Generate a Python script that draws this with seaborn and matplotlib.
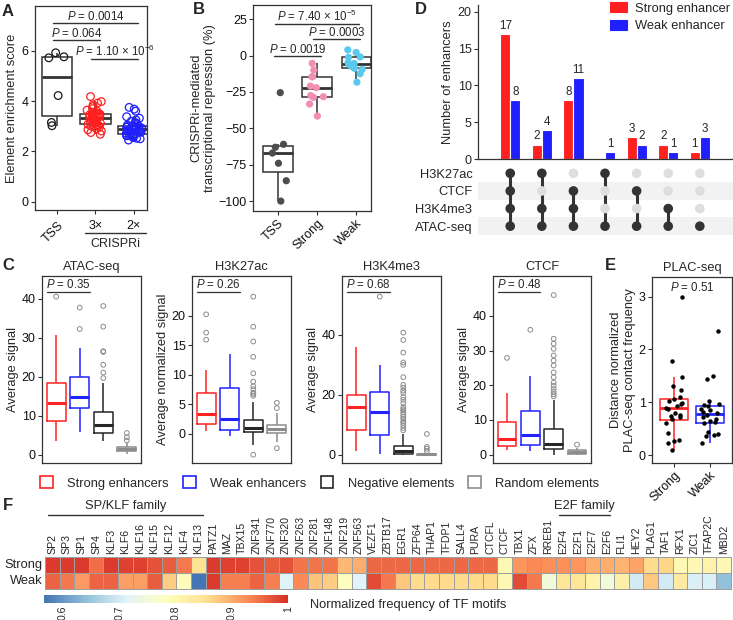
import numpy as np
import pandas as pd
import matplotlib
matplotlib.use("Agg")
import matplotlib.pyplot as plt
import matplotlib.transforms as mtransforms
from matplotlib.colors import LinearSegmentedColormap
from matplotlib.patches import Rectangle
from matplotlib.lines import Line2D
import seaborn as sns

# ---------------- data ----------------
# A: element enrichment score
a_groups = ["TSS", "3×", "2×"]
a_colors = ["#1a1a1a", "#FF1F1F", "#1F1FFF"]
a_tss = [5.92, 5.76, 5.72, 4.22, 3.15, 3.02]
a_3x = [2.68, 2.75, 2.81, 2.86, 2.9, 2.96, 3.0, 3.03, 3.06, 3.08, 3.10,
        3.12, 3.15, 3.17, 3.2, 3.22, 3.24, 3.26, 3.28, 3.3, 3.32,
        3.34, 3.36, 3.38, 3.4, 3.42, 3.44, 3.46, 3.47, 3.49, 3.50,
        3.53, 3.56, 3.6, 3.64, 3.7, 3.78, 3.85, 3.92, 3.98, 4.18]
a_2x = [2.45, 2.5, 2.52, 2.55, 2.58, 2.6, 2.62, 2.64, 2.65, 2.67, 2.68,
        2.7, 2.72, 2.74, 2.76, 2.78, 2.8, 2.82, 2.84, 2.86, 2.88,
        2.89, 2.9, 2.92, 2.93, 2.95, 2.96, 2.98, 2.99, 3.0, 3.02,
        3.05, 3.1, 3.15, 3.2, 3.25, 3.32, 3.38, 3.6, 3.68, 3.75]

# B: CRISPRi-mediated repression
b_groups = ["TSS", "Strong", "Weak"]
b_colors = ["#4D4D4D", "#F28DB4", "#5BC8EE"]
b_tss = [-100, -86, -74, -67, -63, -61, -25.5]
b_strong = [-41.6, -33.3, -28.7, -28.3, -27.5, -22.1, -21, -14.6, -14.6, -10, -5.4]
b_weak = [-18.3, -12.5, -9.5, -8.8, -7.5, -6.5, -6.0, -5.5, -4.8, -1.2, -1.0, 2.1, 3.9]

# D: overlap of marks
d_marks = ["H3K27ac", "CTCF", "H3K4me3", "ATAC-seq"]
d_sets = [[1, 1, 1, 1], [1, 0, 1, 1], [0, 1, 1, 1], [1, 0, 0, 1],
          [0, 1, 0, 1], [0, 0, 1, 1], [0, 0, 0, 1]]
d_strong = [17, 2, 8, 0, 3, 2, 1]
d_weak = [8, 4, 11, 1, 2, 1, 3]

# C: signal boxplots (lower whisker, Q1, median, Q3, upper whisker) + outliers
c_groups = ["Strong enhancers", "Weak enhancers", "Negative elements", "Random elements"]
c_colors = ["#FF2222", "#2222FF", "#262626", "#8C8C8C"]
c_titles = ["ATAC-seq", "H3K27ac", "H3K4me3", "CTCF"]
c_ylabels = ["Average signal", "Average normalized signal", "Average signal", "Average signal"]
c_pvals = ["0.35", "0.26", "0.68", "0.48"]

atac_box = [[3.6, 8.8, 13.4, 18.4, 30.8], [5.8, 12.1, 14.9, 20.1, 27.5],
            [3.6, 5.7, 7.7, 11.1, 18.5], [0.2, 0.9, 1.4, 2.0, 3.0]]
atac_out = [[40.6], [37.8, 32.3], [38.2, 32.9, 26.6, 26.4, 23.1, 21.1, 19.7], [5.6, 4.5, 3.7]]

k27_box = [[0.45, 1.6, 3.3, 6.8, 10.8], [-0.5, 0.6, 2.4, 7.7, 13.5],
           [-1.9, 0.2, 1.0, 2.3, 5.3], [-1.4, 0.05, 0.75, 1.5, 3.5]]
k27_out = [[20.2, 17.1, 15.9], [],
           [23.2, 18.1, 15.6, 13.0, 10.2, 8.8, 8.0, 7.5, 6.9, 6.7, 6.4, -3.6],
           [5.2, 4.3, -2.5]]

k4_box = [[1.3, 8.1, 16.0, 19.8, 35.9], [0.2, 6.6, 14.2, 20.8, 29.9],
          [0.0, 0.3, 1.3, 3.0, 6.9], [0.0, 0.02, 0.1, 0.3, 0.6]]
k4_out = [[], [52.8],
          [40.8, 38.3, 34.1, 30.8, 30.0, 25.9, 23.3, 22.4, 21.4, 20.6, 19.2, 18.3,
           17.2, 15.9, 15.2, 14.8, 14.1, 13.3, 12.6, 11.9, 11.1, 10.6, 9.8, 8.9, 8.1],
          [6.9, 2.6, 2.0, 1.2]]

ctcf_box = [[1.45, 2.6, 4.65, 9.5, 17.9], [1.0, 2.9, 5.8, 12.6, 22.8],
            [0.0, 1.5, 3.1, 7.3, 15.8], [0.0, 0.25, 0.8, 1.3, 2.0]]
ctcf_out = [[27.9], [36.0],
            [46.0, 33.4, 32.0, 30.5, 28.6, 27.1, 25.7, 23.7, 22.3, 20.8, 19.9,
             18.9, 18.1, 17.4, 16.8],
            [2.9]]

# E: PLAC-seq contact frequency
e_groups = ["Strong", "Weak"]
e_strong = [0.10, 0.23, 0.26, 0.28, 0.41, 0.60, 0.68, 0.72, 0.74, 0.76, 0.80, 0.87,
            0.90, 0.93, 0.97, 0.99, 1.02, 1.06, 1.10, 1.24, 1.30, 1.48, 1.78, 3.0]
e_weak = [0.22, 0.36, 0.38, 0.40, 0.44, 0.60, 0.62, 0.64, 0.68, 0.72, 0.76, 0.80,
          0.82, 0.85, 0.88, 0.92, 0.94, 0.97, 1.03, 1.44, 1.49, 2.34]

# F: TF motif frequency
tf_names = ["SP2", "SP3", "SP1", "SP4", "KLF3", "KLF6", "KLF16", "KLF15", "KLF12", "KLF4",
            "KLF13", "PATZ1", "MAZ", "TBX15", "ZNF341", "ZNF770", "ZNF320", "ZNF263",
            "ZNF281", "ZNF148", "ZNF219", "ZNF563", "VEZF1", "ZBTB17", "EGR1", "ZFP64",
            "THAP1", "TFDP1", "SALL4", "PURA", "CTCFL", "CTCF", "TBX1", "ZFX", "RREB1",
            "E2F4", "E2F1", "E2F7", "E2F6", "FLI1", "HEY2", "PLAG1", "TAF1", "RFX1",
            "ZIC1", "TFAP2C", "MBD2"]
tf_strong = [0.99, 0.99, 0.99, 0.95, 0.99, 0.985, 0.985, 0.97, 0.965, 0.94, 0.85, 0.99,
             0.985, 0.985, 0.97, 0.965, 0.97, 0.945, 0.945, 0.945, 0.89, 0.90, 0.955,
             0.955, 0.955, 0.955, 0.955, 0.955, 0.955, 0.955, 0.955, 0.80, 0.92, 0.93,
             0.925, 0.925, 0.92, 0.90, 0.90, 0.895, 0.905, 0.86, 0.865, 0.80, 0.80,
             0.81, 0.80]
tf_weak = [0.96, 0.94, 0.915, 0.96, 0.96, 0.91, 0.91, 0.965, 0.87, 0.79, 0.57, 0.99,
           0.935, 0.935, 0.96, 0.935, 0.71, 0.93, 0.88, 0.87, 0.785, 0.71, 0.975, 0.94,
           0.875, 0.86, 0.86, 0.86, 0.86, 0.86, 0.86, 0.80, 0.975, 0.94, 0.75, 0.84,
           0.84, 0.81, 0.75, 0.82, 0.70, 0.875, 0.70, 0.83, 0.705, 0.705, 0.64]

# ---------------- style ----------------
sns.set_theme(context="paper", style="ticks")
plt.rcParams["font.family"] = ["Liberation Sans", "DejaVu Sans"]
plt.rcParams["mathtext.fontset"] = "custom"
plt.rcParams["mathtext.rm"] = "Liberation Sans"
plt.rcParams["mathtext.it"] = "Liberation Sans:italic"

W, H = 733, 620
DARK = "#333333"
TICK_FS = 9
LAB_FS = 9.3
P_FS = 8.3


def box(l, t, r, b):
    return [l / W, 1 - b / H, (r - l) / W, (b - t) / H]


def fx(x):
    return x / W


def fy(y):
    return 1 - y / H


def frame(ax):
    for s in ax.spines.values():
        s.set_visible(True)
        s.set_color(DARK)
        s.set_linewidth(0.9)
    ax.tick_params(length=3, width=0.8, color=DARK, labelsize=TICK_FS, pad=1.5, labelcolor="#111111")
    ax.set_xlabel("")


def open_markers(ax, start, lw=0.8):
    for coll in ax.collections[start:]:
        fc = coll.get_facecolors()
        coll.set_edgecolors(fc)
        coll.set_facecolors("none")
        coll.set_linewidths(lw)


def bracket(ax, x1, x2, y, label, dx=0.12):
    ax.plot([x1 - dx, x2 + dx], [y, y], color=DARK, lw=1.0, clip_on=False)
    ax.text((x1 + x2) / 2, y, label, ha="center", va="bottom", fontsize=P_FS)


def tilt(ax):
    for t in ax.get_xticklabels():
        t.set_rotation(45)
        t.set_ha("right")
        t.set_va("top")
        t.set_rotation_mode("anchor")


fig = plt.figure(figsize=(7.33, 6.2), dpi=100)

# ---------------- A ----------------
axA = fig.add_axes(box(35, 6, 147, 210))
dfA = pd.DataFrame({"group": ["TSS"] * len(a_tss) + ["3×"] * len(a_3x) + ["2×"] * len(a_2x),
                    "score": a_tss + a_3x + a_2x})
sns.boxplot(data=dfA, x="group", y="score", order=a_groups, color="white", linecolor=DARK,
            width=0.8, linewidth=1.1, showfliers=False, showcaps=False,
            medianprops=dict(linewidth=2.0), ax=axA)
n0 = len(axA.collections)
sns.stripplot(data=dfA, x="group", y="score", order=a_groups, hue="group", hue_order=a_groups,
              palette=a_colors, jitter=0.22, size=5.5, legend=False, ax=axA)
open_markers(axA, n0, lw=0.9)
frame(axA)
axA.set_xlim(-0.58, 2.35)
axA.set_ylim(-0.33, 7.78)
axA.set_yticks([0, 2, 4, 6])
axA.set_ylabel("Element enrichment score", fontsize=LAB_FS, labelpad=3)
axA.tick_params(axis="x", pad=4)
lbls = axA.get_xticklabels()
lbls[0].set_rotation(45)
lbls[0].set_ha("right")
lbls[0].set_va("top")
lbls[0].set_rotation_mode("anchor")
bracket(axA, 0, 2, 7.10, r"$P$ = 0.0014")
bracket(axA, 0, 1, 6.42, r"$P$ = 0.064")
bracket(axA, 1, 2, 5.67, r"$P$ = 1.10 × 10$^{-6}$")
fig.add_artist(Line2D([fx(85), fx(146)], [fy(233), fy(233)], color=DARK, lw=1.0))
fig.text(fx(115), fy(244), "CRISPRi", ha="center", va="center", fontsize=TICK_FS)

# ---------------- B ----------------
axB = fig.add_axes(box(253, 5, 371, 211))
dfB = pd.DataFrame({"group": ["TSS"] * len(b_tss) + ["Strong"] * len(b_strong) + ["Weak"] * len(b_weak),
                    "rep": b_tss + b_strong + b_weak})
sns.boxplot(data=dfB, x="group", y="rep", order=b_groups, color="white", linecolor=DARK,
            width=0.75, linewidth=1.1, showfliers=False, showcaps=False,
            medianprops=dict(linewidth=2.0), ax=axB)
sns.stripplot(data=dfB, x="group", y="rep", order=b_groups, hue="group", hue_order=b_groups,
              palette=b_colors, jitter=0.22, size=5.2, linewidth=0, legend=False, ax=axB)
frame(axB)
axB.set_xlim(-0.64, 2.38)
axB.set_ylim(-106.8, 34.7)
axB.set_yticks([25, 0, -25, -50, -75, -100])
axB.set_ylabel("CRISPRi-mediated\ntranscriptional repression (%)", fontsize=LAB_FS, labelpad=2)
tilt(axB)
bracket(axB, 0, 2, 21.6, r"$P$ = 7.40 × 10$^{-5}$", dx=0.08)
bracket(axB, 1, 2, 11.3, r"$P$ = 0.0003", dx=0.1)
bracket(axB, 0, 1, -0.3, r"$P$ = 0.0019", dx=0.1)

# ---------------- D ----------------
axD = fig.add_axes(box(478, 5, 733, 159.3))
dfD = pd.DataFrame({"combo": list(range(7)) * 2, "n": d_strong + d_weak,
                    "type": ["Strong enhancer"] * 7 + ["Weak enhancer"] * 7})
sns.barplot(data=dfD, x="combo", y="n", hue="type", palette=["#FF2020", "#2020FF"],
            width=0.64, saturation=1, legend=False, ax=axD)
for cont in axD.containers:
    labs = [f"{int(v)}" if v > 0 else "" for v in cont.datavalues]
    axD.bar_label(cont, labels=labs, padding=1.5, fontsize=8.4)
for s in ["top", "right"]:
    axD.spines[s].set_visible(False)
for s in ["left", "bottom"]:
    axD.spines[s].set_color(DARK)
    axD.spines[s].set_linewidth(0.9)
axD.tick_params(axis="y", length=3, width=0.8, color=DARK, labelsize=TICK_FS, pad=1.5)
axD.tick_params(axis="x", length=0, labelbottom=False)
axD.set_xlabel("")
axD.set_ylabel("Number of enhancers", fontsize=LAB_FS, labelpad=3)
axD.set_xlim(-1.02, 7.05)
axD.set_ylim(0, 20.9)
axD.set_yticks([0, 5, 10, 15, 20])
axD.legend(handles=[Rectangle((0, 0), 1, 1, color="#FF2020"), Rectangle((0, 0), 1, 1, color="#2020FF")],
           labels=["Strong enhancer", "Weak enhancer"], loc="upper left",
           bbox_to_anchor=(fx(610), fy(2)), bbox_transform=fig.transFigure, frameon=False,
           fontsize=LAB_FS, handlelength=1.3, handleheight=0.85, handletextpad=0.6, labelspacing=0.4,
           borderaxespad=0, borderpad=0)

axM = fig.add_axes(box(478, 164.5, 733, 235))
rows = []
for ci, memb in enumerate(d_sets):
    for ri, m in enumerate(memb):
        rows.append({"combo": ci, "row": ri, "present": bool(m)})
dfM = pd.DataFrame(rows)
axM.axhspan(0.5, 1.5, color="#F2F2F2", zorder=0, lw=0)
axM.axhspan(2.5, 3.5, color="#F2F2F2", zorder=0, lw=0)
for ci, memb in enumerate(d_sets):
    on = [ri for ri, m in enumerate(memb) if m]
    axM.plot([ci, ci], [min(on), max(on)], color=DARK, lw=2.2, zorder=2, solid_capstyle="round")
sns.scatterplot(data=dfM, x="combo", y="row", hue="present", palette={True: DARK, False: "#DEDEDE"},
                s=48, edgecolor="none", legend=False, zorder=3, ax=axM)
axM.set_xlim(-1.02, 7.05)
axM.set_ylim(3.5, -0.5)
for s in axM.spines.values():
    s.set_visible(False)
axM.set_xticks([])
axM.set_yticks(range(4))
axM.set_yticklabels(d_marks, fontsize=LAB_FS)
axM.tick_params(axis="y", length=0, pad=4)
axM.set_xlabel("")
axM.set_ylabel("")

# ---------------- C ----------------
c_px = [(42, 141), (192, 291), (342, 441), (493, 591)]
c_boxes = [atac_box, k27_box, k4_box, ctcf_box]
c_outs = [atac_out, k27_out, k4_out, ctcf_out]
c_ylims = [(-2.1, 45.9), (-5.0, 26.7), (-2.8, 59.7), (-2.4, 51.5)]
c_yticks = [[0, 10, 20, 30, 40], [0, 5, 10, 15, 20], [0, 20, 40], [0, 10, 20, 30, 40]]

for (l, r), title, ylab, bx, outs, yl, yt, pv in zip(c_px, c_titles, c_ylabels, c_boxes, c_outs,
                                                     c_ylims, c_yticks, c_pvals):
    ax = fig.add_axes(box(l, 276, r, 463))
    dfc = pd.DataFrame([(g, v) for g, vals in zip(c_groups, bx) for v in vals], columns=["group", "value"])
    dfo = pd.DataFrame([(g, v) for g, vals in zip(c_groups, outs) for v in vals], columns=["group", "value"])
    sns.boxplot(data=dfc, x="group", y="value", order=c_groups, hue="group", hue_order=c_groups,
                palette=c_colors, fill=False, saturation=1, width=0.8, showfliers=False,
                showcaps=False, linewidth=1.1, medianprops=dict(linewidth=2.2), legend=False, ax=ax)
    n0 = len(ax.collections)
    sns.stripplot(data=dfo, x="group", y="value", order=c_groups, jitter=False, color="#8C8C8C",
                  size=3.4, ax=ax)
    open_markers(ax, n0, lw=0.7)
    frame(ax)
    ax.set_xticks([])
    ax.set_xlim(-0.6, 3.6)
    ax.set_ylim(*yl)
    ax.set_yticks(yt)
    ax.set_ylabel(ylab, fontsize=LAB_FS, labelpad=2)
    ax.set_title(title, fontsize=LAB_FS, pad=4)
    tr = mtransforms.blended_transform_factory(ax.transData, ax.transAxes)
    ax.plot([-0.38, 1.43], [0.914, 0.914], transform=tr, color=DARK, lw=0.9)
    ax.text(0.52, 0.922, r"$P$ = " + pv, transform=tr, ha="center", va="bottom", fontsize=P_FS)

fig.legend(handles=[Rectangle((0, 0), 1, 1, facecolor="white", edgecolor=c, lw=1.2) for c in c_colors],
           labels=c_groups, loc="center left", bbox_to_anchor=(fx(40), fy(483)), ncol=4, frameon=False,
           fontsize=LAB_FS, handlelength=1.0, handleheight=1.0, handletextpad=1.1, columnspacing=1.1,
           borderaxespad=0, borderpad=0)

# ---------------- E ----------------
axE = fig.add_axes(box(652, 277, 732, 463))
dfE = pd.DataFrame({"group": ["Strong"] * len(e_strong) + ["Weak"] * len(e_weak),
                    "freq": e_strong + e_weak})
sns.boxplot(data=dfE, x="group", y="freq", order=e_groups, hue="group", hue_order=e_groups,
            palette=["#FF2222", "#2222FF"], fill=False, saturation=1, width=0.76, showfliers=False,
            showcaps=False, linewidth=1.1, medianprops=dict(linewidth=2.0), legend=False, ax=axE)
sns.stripplot(data=dfE, x="group", y="freq", order=e_groups, color="black", jitter=0.25,
              size=3.2, linewidth=0, ax=axE)
frame(axE)
axE.set_xlim(-0.6, 1.6)
axE.set_ylim(-0.15, 3.37)
axE.set_yticks([0, 1, 2, 3])
axE.set_ylabel("Distance normalized\nPLAC-seq contact frequency", fontsize=LAB_FS, labelpad=2)
axE.set_title("PLAC-seq", fontsize=LAB_FS, pad=4)
tilt(axE)
axE.text(0.5, 0.946, r"$P$ = 0.51", transform=axE.transAxes, ha="center", va="center", fontsize=P_FS)

# ---------------- F ----------------
axF = fig.add_axes(box(45, 557, 731, 588.5))
axCb = fig.add_axes(box(44, 595, 288, 603))
cmap = LinearSegmentedColormap.from_list(
    "ph", ["#4575B4", "#91BFDB", "#E0F3F8", "#FFFFBF", "#FEE090", "#FC8D59", "#D73027"], N=100)
dfF = pd.DataFrame([tf_strong, tf_weak], index=["Strong", "Weak"], columns=tf_names)
sns.heatmap(dfF, ax=axF, cmap=cmap, vmin=0.566, vmax=1.0, linewidths=0.6, linecolor="#9E9E9E",
            cbar_ax=axCb, cbar_kws={"orientation": "horizontal", "ticks": [0.6, 0.7, 0.8, 0.9, 1.0]},
            xticklabels=True, yticklabels=True)
axF.collections[0].set_clip_on(False)
axF.xaxis.tick_top()
axF.set_xticklabels(tf_names, rotation=90, fontsize=7.6)
axF.set_yticklabels(["Strong", "Weak"], rotation=0, fontsize=LAB_FS)
axF.tick_params(axis="both", length=0, pad=2)
axF.set_xlabel("")
axF.set_ylabel("")
cb = axF.collections[0].colorbar
cb.outline.set_visible(False)
axCb.tick_params(length=0, labelsize=7.6, pad=2)
axCb.set_xticklabels(["0.6", "0.7", "0.8", "0.9", "1"], rotation=90)
fig.text(fx(310), fy(605), "Normalized frequency of TF motifs", ha="left", va="center", fontsize=LAB_FS)

trF = mtransforms.blended_transform_factory(axF.transData, axF.transAxes)
axF.plot([0.2, 10.8], [2.33, 2.33], transform=trF, color=DARK, lw=1.0, clip_on=False)
axF.text(5.5, 2.62, "SP/KLF family", transform=trF, ha="center", va="center", fontsize=LAB_FS)
axF.plot([35.2, 38.7], [2.33, 2.33], transform=trF, color=DARK, lw=1.0, clip_on=False)
axF.text(36.95, 2.62, "E2F family", transform=trF, ha="center", va="center", fontsize=LAB_FS)

# ---------------- panel letters ----------------
for letter, (x, y) in {"A": (2, 11), "B": (193, 10), "D": (415, 10), "C": (2, 265),
                       "E": (605, 265), "F": (3, 506)}.items():
    fig.text(fx(x), fy(y), letter, fontsize=12, fontweight="bold", ha="left", va="center")

fig.savefig("out.png", dpi=100)
